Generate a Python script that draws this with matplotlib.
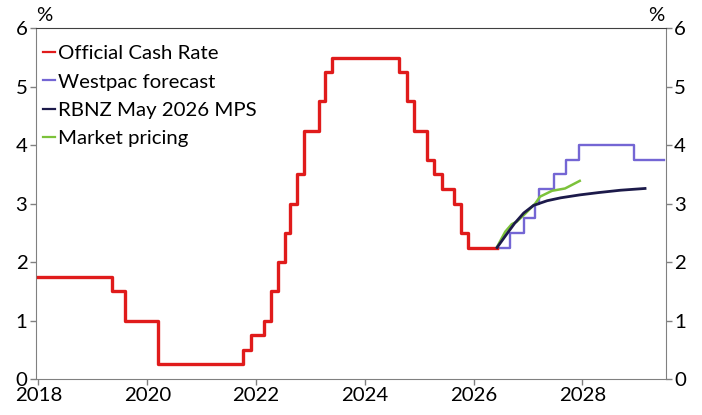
import matplotlib
matplotlib.use("Agg")
import matplotlib.pyplot as plt

# Official Cash Rate history (decision dates as fractional years, rate in %)
ocr_dates = [2018.0, 2019.35, 2019.59, 2020.19, 2021.76, 2021.90, 2022.14, 2022.28,
             2022.40, 2022.53, 2022.63, 2022.76, 2022.88, 2023.15, 2023.27, 2023.40,
             2024.62, 2024.77, 2024.91, 2025.14, 2025.27, 2025.42, 2025.63, 2025.76,
             2025.90, 2026.43]
ocr_rates = [1.75, 1.5, 1.0, 0.25, 0.5, 0.75, 1.0, 1.5,
             2.0, 2.5, 3.0, 3.5, 4.25, 4.75, 5.25, 5.5,
             5.25, 4.75, 4.25, 3.75, 3.5, 3.25, 3.0, 2.5,
             2.25, 2.25]

# Westpac forecast
wbc_dates = [2026.43, 2026.67, 2026.93, 2027.12, 2027.21, 2027.47, 2027.70, 2027.93,
             2028.94, 2029.49]
wbc_rates = [2.25, 2.5, 2.75, 3.0, 3.25, 3.5, 3.75, 4.0, 3.75, 3.75]

# RBNZ May 2026 MPS track
rbnz_dates = [2026.43, 2026.60, 2026.75, 2026.92, 2027.10, 2027.35, 2027.60, 2027.95,
              2028.30, 2028.70, 2029.15]
rbnz_rates = [2.25, 2.47, 2.66, 2.84, 2.97, 3.05, 3.10, 3.15, 3.19, 3.23, 3.26]

# Market pricing
mkt_dates = [2026.43, 2026.58, 2026.70, 2026.79, 2026.95, 2027.13, 2027.22, 2027.44,
             2027.68, 2027.95]
mkt_rates = [2.26, 2.52, 2.65, 2.69, 2.83, 3.00, 3.12, 3.22, 3.26, 3.39]

x_ticks = [2018, 2020, 2022, 2024, 2026, 2028]
y_ticks = [0, 1, 2, 3, 4, 5, 6]

plt.rcParams['font.family'] = ['Lato', 'DejaVu Sans']
fs = 14.7

fig = plt.figure(figsize=(7.02, 4.15), dpi=100)
ax = fig.add_axes([0.0509, 0.0867, 0.8974, 0.8451])

ax.step(ocr_dates, ocr_rates, where='post', color='#e01b1b', lw=2.4,
        label='Official Cash Rate', zorder=3)
ax.step(wbc_dates, wbc_rates, where='post', color='#7466d4', lw=1.7,
        label='Westpac forecast', zorder=2)
ax.plot(rbnz_dates, rbnz_rates, color='#1c1a4a', lw=2.0,
        label='RBNZ May 2026 MPS', zorder=4)
ax.plot(mkt_dates, mkt_rates, color='#7cc23a', lw=1.8,
        label='Market pricing', zorder=3)

ax.set_xlim(2017.95, 2029.53)
ax.set_ylim(0, 6)
ax.set_xticks(x_ticks)
ax.set_yticks(y_ticks)
ax.tick_params(axis='both', colors='#808080', labelcolor='black', length=4,
               width=1, labelsize=fs, pad=2)
ax.tick_params(axis='y', right=True, labelright=True)

for side in ['left', 'right', 'bottom']:
    ax.spines[side].set_color('#808080')
ax.spines['top'].set_color('#404040')

ax.text(0.013, 1.013, '%', transform=ax.transAxes, ha='center', va='bottom', fontsize=fs)
ax.text(0.985, 1.013, '%', transform=ax.transAxes, ha='center', va='bottom', fontsize=fs)

leg = ax.legend(loc='upper left', frameon=False, handlelength=0.6, handletextpad=0.15,
                labelspacing=0.53, borderpad=0, borderaxespad=0, fontsize=fs,
                bbox_to_anchor=(0.011, 0.952))
for line in leg.get_lines():
    line.set_linewidth(1.6)

fig.savefig('out.png', dpi=100)
